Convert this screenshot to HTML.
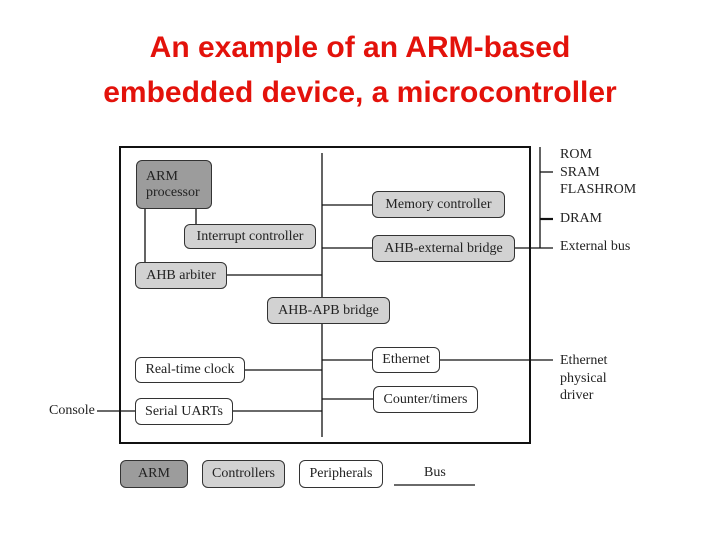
<!DOCTYPE html>
<html><head><style>
body{margin:0;width:720px;height:540px;background:#fff;overflow:hidden;position:relative;font-family:"Liberation Serif",serif}
.t{position:absolute;left:0;width:720px;text-align:center;color:#e3120b;font-family:"Liberation Sans",sans-serif;font-size:30px;font-weight:bold;line-height:44px}
.b{position:absolute;box-sizing:border-box;border:1.5px solid #333;border-radius:6px;font-size:14px;color:#222;display:flex;align-items:center;justify-content:center;white-space:nowrap}
.c{background:#d2d2d2}.a{background:#9c9c9c}.p{background:#fff}
.l{position:absolute;font-size:14px;color:#222;white-space:nowrap}
</style></head><body>
<div class="t" style="top:26px">An example of an ARM-based</div>
<div class="t" style="top:71px">embedded device, a microcontroller</div>
<svg width="720" height="540" style="position:absolute;left:0;top:0">
<rect x="120" y="147" width="410" height="296" fill="none" stroke="#111" stroke-width="2"/>
<g stroke="#111" stroke-width="1.3">
<line x1="322" y1="153" x2="322" y2="437"/>
<line x1="196" y1="209" x2="196" y2="224"/>
<line x1="145" y1="209" x2="145" y2="262"/>
<line x1="227" y1="275" x2="322" y2="275"/>
<line x1="322" y1="205" x2="372" y2="205"/>
<line x1="322" y1="248" x2="372" y2="248"/>
<line x1="515" y1="248" x2="553" y2="248"/>
<line x1="540" y1="147" x2="540" y2="248"/>
<line x1="540" y1="172" x2="553" y2="172"/>
<line x1="540" y1="219" x2="553" y2="219" stroke-width="2.2"/>
<line x1="322" y1="360" x2="372" y2="360"/>
<line x1="440" y1="360" x2="553" y2="360"/>
<line x1="245" y1="370" x2="322" y2="370"/>
<line x1="322" y1="399" x2="373" y2="399"/>
<line x1="233" y1="411" x2="322" y2="411"/>
<line x1="97" y1="411" x2="135" y2="411"/>
<line x1="394" y1="485" x2="475" y2="485"/>
</g></svg>
<div class="b a" style="left:136px;top:160px;width:76px;height:49px;justify-content:flex-start;padding-left:9px;line-height:16px;white-space:normal">ARM<br>processor</div>
<div class="b c" style="left:184px;top:224px;width:132px;height:25px">Interrupt controller</div>
<div class="b c" style="left:135px;top:262px;width:92px;height:27px">AHB arbiter</div>
<div class="b c" style="left:372px;top:191px;width:133px;height:27px">Memory controller</div>
<div class="b c" style="left:372px;top:235px;width:143px;height:27px">AHB-external bridge</div>
<div class="b c" style="left:267px;top:297px;width:123px;height:27px">AHB-APB bridge</div>
<div class="b p" style="left:372px;top:347px;width:68px;height:26px">Ethernet</div>
<div class="b p" style="left:135px;top:357px;width:110px;height:26px">Real-time clock</div>
<div class="b p" style="left:373px;top:386px;width:105px;height:27px">Counter/timers</div>
<div class="b p" style="left:135px;top:398px;width:98px;height:27px">Serial UARTs</div>
<div class="b a" style="left:120px;top:460px;width:68px;height:28px">ARM</div>
<div class="b c" style="left:202px;top:460px;width:83px;height:28px">Controllers</div>
<div class="b p" style="left:299px;top:460px;width:84px;height:28px">Peripherals</div>
<div class="l" style="left:424px;top:465px">Bus</div>
<div class="l" style="left:560px;top:146px;line-height:17.5px">ROM<br>SRAM<br>FLASHROM</div>
<div class="l" style="left:560px;top:211px">DRAM</div>
<div class="l" style="left:560px;top:239px">External bus</div>
<div class="l" style="left:560px;top:352px;line-height:17.5px">Ethernet<br>physical<br>driver</div>
<div class="l" style="left:49px;top:403px">Console</div>
</body></html>
